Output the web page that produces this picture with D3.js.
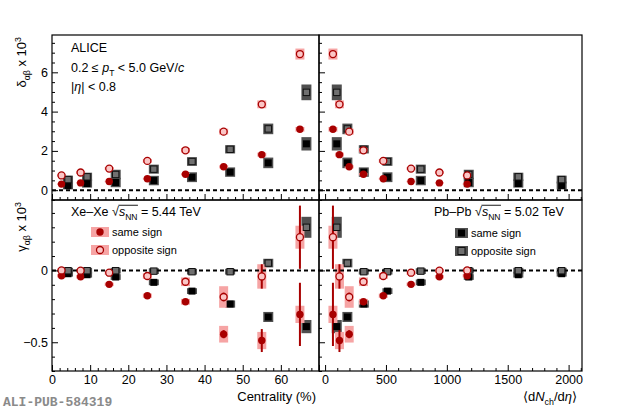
<!DOCTYPE html>
<html>
<head>
<meta charset="utf-8">
<script src="https://cdn.jsdelivr.net/npm/d3@7"></script>
<style>
  body { margin: 0; background: #fff; }
  text { font-family: "Liberation Sans", Arial, Helvetica, sans-serif; fill: #000; }
</style>
</head>
<body>
<svg id="chart" width="620" height="412"></svg>
<script>
// ---- data (x10^3) ----
const centXe = [2.5, 7.5, 15, 25, 35, 45, 55, 65];
const centPb = [4.2, 9.2, 16.7, 26.7, 36.7, 46.7, 56.7, 66.7];   // shifted for visibility
const dNdetaXe = [1167, 939, 706, 478, 315, 198, 118, 64.5];
const dNdetaPb = [1943, 1587, 1180, 786, 512, 318, 183, 96];

const deltaXeSS = [0.31, 0.37, 0.44, 0.58, 0.81, 1.19, 1.81, 3.10];
const deltaXeSSSys = [0.04, 0.04, 0.04, 0.05, 0.06, 0.08, 0.10, 0.12];
const deltaXeOS = [0.75, 0.90, 1.10, 1.49, 2.03, 2.98, 4.37, 6.93];
const deltaXeOSSys = [0.06, 0.07, 0.08, 0.10, 0.12, 0.15, 0.20, 0.28];
const deltaPbSS = [0.24, 0.34, 0.39, 0.49, 0.66, 0.92, 1.39, 2.36];
const deltaPbSSSys = [0.20, 0.21, 0.24, 0.24, 0.25, 0.24, 0.27, 0.34];
const deltaPbOS = [0.54, 0.68, 0.80, 1.07, 1.46, 2.08, 3.12, 4.98];
const deltaPbOSSys = [0.20, 0.21, 0.24, 0.23, 0.22, 0.21, 0.27, 0.40];

const gammaXeSS = [-0.037, -0.044, -0.097, -0.176, -0.218, -0.444, -0.488, -0.306];
const gammaXeSSStat = [0.005, 0.006, 0.008, 0.008, 0.012, 0.028, 0.08, 0.22];
const gammaXeSSSys = [0.012, 0.012, 0.012, 0.015, 0.02, 0.058, 0.06, 0.06];
const gammaXeOS = [0.0, -0.002, -0.016, -0.039, -0.079, -0.185, -0.042, 0.231];
const gammaXeOSStat = [0.005, 0.006, 0.008, 0.008, 0.012, 0.03, 0.085, 0.22];
const gammaXeOSSys = [0.012, 0.012, 0.015, 0.02, 0.03, 0.075, 0.085, 0.08];
const gammaPbSS = [-0.023, -0.030, -0.046, -0.083, -0.144, -0.234, -0.324, -0.391];
const gammaPbSSStat = [0.002, 0.002, 0.003, 0.003, 0.004, 0.006, 0.01, 0.02];
const gammaPbSSSys = [0.02, 0.02, 0.02, 0.02, 0.02, 0.025, 0.035, 0.046];
const gammaPbOS = [-0.002, -0.002, -0.002, -0.005, -0.009, -0.009, 0.051, 0.30];
const gammaPbOSStat = [0.002, 0.002, 0.003, 0.003, 0.004, 0.006, 0.01, 0.02];
const gammaPbOSSys = [0.02, 0.02, 0.02, 0.02, 0.02, 0.02, 0.03, 0.073];

// ---- style ----
const XE_RED = '#a80000';
const XE_BOX = '#f6a4a4';
const XE_OPEN_FILL = '#fbc6c6';
const PB_BOX = '#4f4f4f';
const PB_OS_FILL = '#707070';
const FONT = 12.5;
const MAJOR = 6, MINOR = 3;

const L = 52, MID = 319, R = 582, TOP = 35, SPLIT = 200, BOT = 371;

const svg = d3.select('#chart');

const xCent = d3.scaleLinear().domain([0, 70]).range([L, MID]);
const xMult = d3.scaleLinear().domain([-50, 2110]).range([MID, R]);
const yDelta = d3.scaleLinear().domain([-0.5, 7.9]).range([SPLIT, TOP]);
const yGamma = d3.scaleLinear().domain([-0.7, 0.49]).range([BOT, SPLIT]);

function series(xv, yv, stat, sys) {
    return xv.map((x, i) => ({ x, y: yv[i], stat: stat ? stat[i] : 0, sys: sys[i] }));
}

function minors(lo, hi, step, majors) {
    return d3.range(Math.round(lo / step), Math.round(hi / step) + 1)
        .map(k => +(k * step).toFixed(4))
        .filter(v => !majors.some(m => Math.abs(m - v) < 1e-6));
}

// rich text: parts = [[text, kind]] with kind in '', 'it', 'sub', 'sup'
function rich(sel, parts, fs) {
    let shift = 0;
    parts.forEach(([txt, kind]) => {
        const ts = sel.append('tspan').text(txt);
        let target = 0, size = fs;
        if (kind === 'sub') { target = fs * 0.32; size = fs * 0.68; }
        if (kind === 'sup') { target = -fs * 0.42; size = fs * 0.68; }
        if (kind === 'it') ts.style('font-style', 'italic');
        ts.attr('dy', target - shift).style('font-size', size + 'px');
        shift = target;
    });
}

let clipId = 0;
function drawPanel(x, y, xe, pb, bounds) {
    const id = 'clip' + (clipId++);
    svg.append('clipPath').attr('id', id).append('rect')
        .attr('x', bounds[0]).attr('y', bounds[1])
        .attr('width', bounds[2] - bounds[0]).attr('height', bounds[3] - bounds[1]);
    const g = svg.append('g').attr('clip-path', `url(#${id})`);

    const pbAll = pb.ss.concat(pb.os);
    const xeAll = xe.ss.concat(xe.os);

    // systematic boxes
    g.selectAll('.pbsys').data(pbAll).enter().append('rect')
        .attr('x', d => x(d.x) - 5).attr('width', 10)
        .attr('y', d => y(d.y + d.sys)).attr('height', d => Math.max(y(d.y - d.sys) - y(d.y + d.sys), 1))
        .attr('fill', PB_BOX);
    g.selectAll('.xesys').data(xeAll).enter().append('rect')
        .attr('x', d => x(d.x) - 4.5).attr('width', 9)
        .attr('y', d => y(d.y + d.sys)).attr('height', d => Math.max(y(d.y - d.sys) - y(d.y + d.sys), 1))
        .attr('fill', XE_BOX);

    // zero line
    g.append('line')
        .attr('x1', bounds[0]).attr('x2', bounds[2])
        .attr('y1', y(0)).attr('y2', y(0))
        .attr('stroke', '#000').attr('stroke-width', 2).attr('stroke-dasharray', '4,3');

    // statistical bars
    g.selectAll('.pbstat').data(pbAll).enter().append('line')
        .attr('x1', d => x(d.x)).attr('x2', d => x(d.x))
        .attr('y1', d => y(d.y + d.stat)).attr('y2', d => y(d.y - d.stat))
        .attr('stroke', '#000').attr('stroke-width', 2);
    g.selectAll('.xestat').data(xeAll).enter().append('line')
        .attr('x1', d => x(d.x)).attr('x2', d => x(d.x))
        .attr('y1', d => y(d.y + d.stat)).attr('y2', d => y(d.y - d.stat))
        .attr('stroke', XE_RED).attr('stroke-width', 2);

    // markers
    g.selectAll('.pbss').data(pb.ss).enter().append('rect')
        .attr('x', d => x(d.x) - 3.5).attr('y', d => y(d.y) - 3.5)
        .attr('width', 7).attr('height', 7).attr('fill', '#000');
    g.selectAll('.pbos').data(pb.os).enter().append('rect')
        .attr('x', d => x(d.x) - 3.2).attr('y', d => y(d.y) - 3.2)
        .attr('width', 6.4).attr('height', 6.4)
        .attr('fill', PB_OS_FILL).attr('stroke', '#111').attr('stroke-width', 1);
    g.selectAll('.xess').data(xe.ss).enter().append('circle')
        .attr('cx', d => x(d.x)).attr('cy', d => y(d.y)).attr('r', 3.7)
        .attr('fill', XE_RED);
    g.selectAll('.xeos').data(xe.os).enter().append('circle')
        .attr('cx', d => x(d.x)).attr('cy', d => y(d.y)).attr('r', 3.5)
        .attr('fill', XE_OPEN_FILL).attr('stroke', XE_RED).attr('stroke-width', 1.3);
}

// ---- panels ----
const topXe = {
    cent: { ss: series(centXe, deltaXeSS, null, deltaXeSSSys), os: series(centXe, deltaXeOS, null, deltaXeOSSys) },
    mult: { ss: series(dNdetaXe, deltaXeSS, null, deltaXeSSSys), os: series(dNdetaXe, deltaXeOS, null, deltaXeOSSys) }
};
const topPb = {
    cent: { ss: series(centPb, deltaPbSS, null, deltaPbSSSys), os: series(centPb, deltaPbOS, null, deltaPbOSSys) },
    mult: { ss: series(dNdetaPb, deltaPbSS, null, deltaPbSSSys), os: series(dNdetaPb, deltaPbOS, null, deltaPbOSSys) }
};
const botXe = {
    cent: { ss: series(centXe, gammaXeSS, gammaXeSSStat, gammaXeSSSys), os: series(centXe, gammaXeOS, gammaXeOSStat, gammaXeOSSys) },
    mult: { ss: series(dNdetaXe, gammaXeSS, gammaXeSSStat, gammaXeSSSys), os: series(dNdetaXe, gammaXeOS, gammaXeOSStat, gammaXeOSSys) }
};
const botPb = {
    cent: { ss: series(centPb, gammaPbSS, gammaPbSSStat, gammaPbSSSys), os: series(centPb, gammaPbOS, gammaPbOSStat, gammaPbOSSys) },
    mult: { ss: series(dNdetaPb, gammaPbSS, gammaPbSSStat, gammaPbSSSys), os: series(dNdetaPb, gammaPbOS, gammaPbOSStat, gammaPbOSSys) }
};

drawPanel(xCent, yDelta, topXe.cent, topPb.cent, [L, TOP, MID, SPLIT]);
drawPanel(xMult, yDelta, topXe.mult, topPb.mult, [MID, TOP, R, SPLIT]);
drawPanel(xCent, yGamma, botXe.cent, botPb.cent, [L, SPLIT, MID, BOT]);
drawPanel(xMult, yGamma, botXe.mult, botPb.mult, [MID, SPLIT, R, BOT]);

// ---- axes ----
function axisPair(axisFn, scale, majors, minorVals, pos, labels, fmt) {
    const major = axisFn(scale).tickValues(majors).tickSize(-MAJOR).tickPadding(4)
        .tickFormat(labels ? fmt : () => '');
    const minor = axisFn(scale).tickValues(minorVals).tickSize(-MINOR).tickFormat(() => '');
    [major, minor].forEach(ax => {
        const g = svg.append('g').attr('transform', pos).call(ax);
        g.select('.domain').remove();
        g.selectAll('line').attr('stroke', '#000');
        g.selectAll('text').style('font-size', FONT + 'px')
            .style('font-family', '"Liberation Sans", Arial, sans-serif').attr('fill', '#000');
    });
}

const centMaj = d3.range(0, 71, 10);
const centMin = minors(0, 70, 2, centMaj);
const multMaj = [0, 500, 1000, 1500, 2000];
const multMin = minors(0, 2100, 100, multMaj);
const deltaMaj = [0, 2, 4, 6];
const deltaMin = minors(-0.5, 7.5, 0.5, deltaMaj);
const gammaMaj = [-0.5, 0];
const gammaMin = minors(-0.7, 0.4, 0.1, gammaMaj);

const fmtCent = d => d >= 70 ? '' : d3.format('d')(d);
axisPair(d3.axisBottom, xCent, centMaj, centMin, `translate(0,${SPLIT})`, false);
axisPair(d3.axisBottom, xMult, multMaj, multMin, `translate(0,${SPLIT})`, false);
axisPair(d3.axisBottom, xCent, centMaj, centMin, `translate(0,${BOT})`, true, fmtCent);
axisPair(d3.axisBottom, xMult, multMaj, multMin, `translate(0,${BOT})`, true, d3.format('d'));
axisPair(d3.axisLeft, yDelta, deltaMaj, deltaMin, `translate(${L},0)`, true, d3.format('d'));
axisPair(d3.axisLeft, yDelta, deltaMaj, deltaMin, `translate(${MID},0)`, false);
axisPair(d3.axisLeft, yGamma, gammaMaj, gammaMin, `translate(${L},0)`, true, d => d === 0 ? '0' : d3.format('.1f')(d));
axisPair(d3.axisLeft, yGamma, gammaMaj, gammaMin, `translate(${MID},0)`, false);

// frames
[[L, TOP, MID, SPLIT], [MID, TOP, R, SPLIT], [L, SPLIT, MID, BOT], [MID, SPLIT, R, BOT]].forEach(b => {
    svg.append('rect').attr('x', b[0]).attr('y', b[1])
        .attr('width', b[2] - b[0]).attr('height', b[3] - b[1])
        .attr('fill', 'none').attr('stroke', '#000').attr('stroke-width', 1.2);
});

// ---- axis titles ----
rich(svg.append('text').attr('text-anchor', 'end')
    .attr('transform', `translate(26,37) rotate(-90)`),
    [['δ', ''], ['αβ', 'sub'], [' x 10', ''], ['3', 'sup']], 13);
rich(svg.append('text').attr('text-anchor', 'end')
    .attr('transform', `translate(26,202) rotate(-90)`),
    [['γ', ''], ['αβ', 'sub'], [' x 10', ''], ['3', 'sup']], 13);

svg.append('text').attr('x', MID - 3).attr('y', 401).attr('text-anchor', 'end')
    .style('font-size', '13px').text('Centrality (%)');
rich(svg.append('text').attr('x', R - 5).attr('y', 401).attr('text-anchor', 'end'),
    [['⟨d', ''], ['N', 'it'], ['ch', 'sub'], ['/d', ''], ['η', 'it'], ['⟩', '']], 13);

// ---- annotations ----
svg.append('text').attr('x', 71).attr('y', 52).style('font-size', FONT + 'px').text('ALICE');
rich(svg.append('text').attr('x', 71).attr('y', 72),
    [['0.2 ≤ ', ''], ['p', 'it'], ['T', 'sub'], [' < 5.0 GeV/', ''], ['c', 'it']], FONT);
rich(svg.append('text').attr('x', 71).attr('y', 91),
    [['|', ''], ['η', 'it'], ['| < 0.8', '']], FONT);

function systemLabel(xPos, name, energy) {
    const t = svg.append('text').attr('x', xPos).attr('y', 216);
    rich(t, [[name + ' ', ''], ['√', ''], ['s', 'it'], ['NN', 'sub'], [' = ' + energy + ' TeV', '']], FONT);
    const n = t.node();
    const rootIdx = name.length + 1;
    const a = n.getExtentOfChar(rootIdx);
    const b = n.getExtentOfChar(rootIdx + 3);
    svg.append('line')
        .attr('x1', a.x + a.width - 0.5).attr('x2', b.x + b.width + 0.5)
        .attr('y1', 216 - FONT * 0.86).attr('y2', 216 - FONT * 0.86)
        .attr('stroke', '#000').attr('stroke-width', 0.9);
}
systemLabel(71, 'Xe–Xe', '5.44');
systemLabel(434, 'Pb–Pb', '5.02');

// ---- legends ----
const legendLabels = ['same sign', 'opposite sign'];
const xeLegendY = [232, 250];
const pbLegendY = [233, 251];

legendLabels.forEach((lab, i) => {
    svg.append('rect').attr('x', 91).attr('y', xeLegendY[i] - 5).attr('width', 18).attr('height', 10).attr('fill', XE_BOX);
    const c = svg.append('circle').attr('cx', 100).attr('cy', xeLegendY[i]);
    if (i === 0) c.attr('r', 3.7).attr('fill', XE_RED);
    else c.attr('r', 3.5).attr('fill', XE_OPEN_FILL).attr('stroke', XE_RED).attr('stroke-width', 1.3);
    svg.append('text').attr('x', 112).attr('y', xeLegendY[i] + 4).style('font-size', '11px').text(lab);

    svg.append('rect').attr('x', 455).attr('y', pbLegendY[i] - 5).attr('width', 13).attr('height', 10).attr('fill', PB_BOX);
    const s = svg.append('rect').attr('x', 458).attr('y', pbLegendY[i] - 3.5).attr('width', 7).attr('height', 7);
    if (i === 0) s.attr('fill', '#000');
    else s.attr('fill', PB_OS_FILL).attr('stroke', '#111').attr('stroke-width', 1);
    svg.append('text').attr('x', 471).attr('y', pbLegendY[i] + 4).style('font-size', '11px').text(lab);
});

// ---- publication tag ----
svg.append('text').attr('x', 3).attr('y', 406)
    .style('font-family', '"Liberation Mono", "DejaVu Sans Mono", monospace')
    .style('font-weight', 'bold').style('font-size', '13px').style('fill', '#8a8a8a')
    .text('ALI-PUB-584319');
</script>
</body>
</html>
